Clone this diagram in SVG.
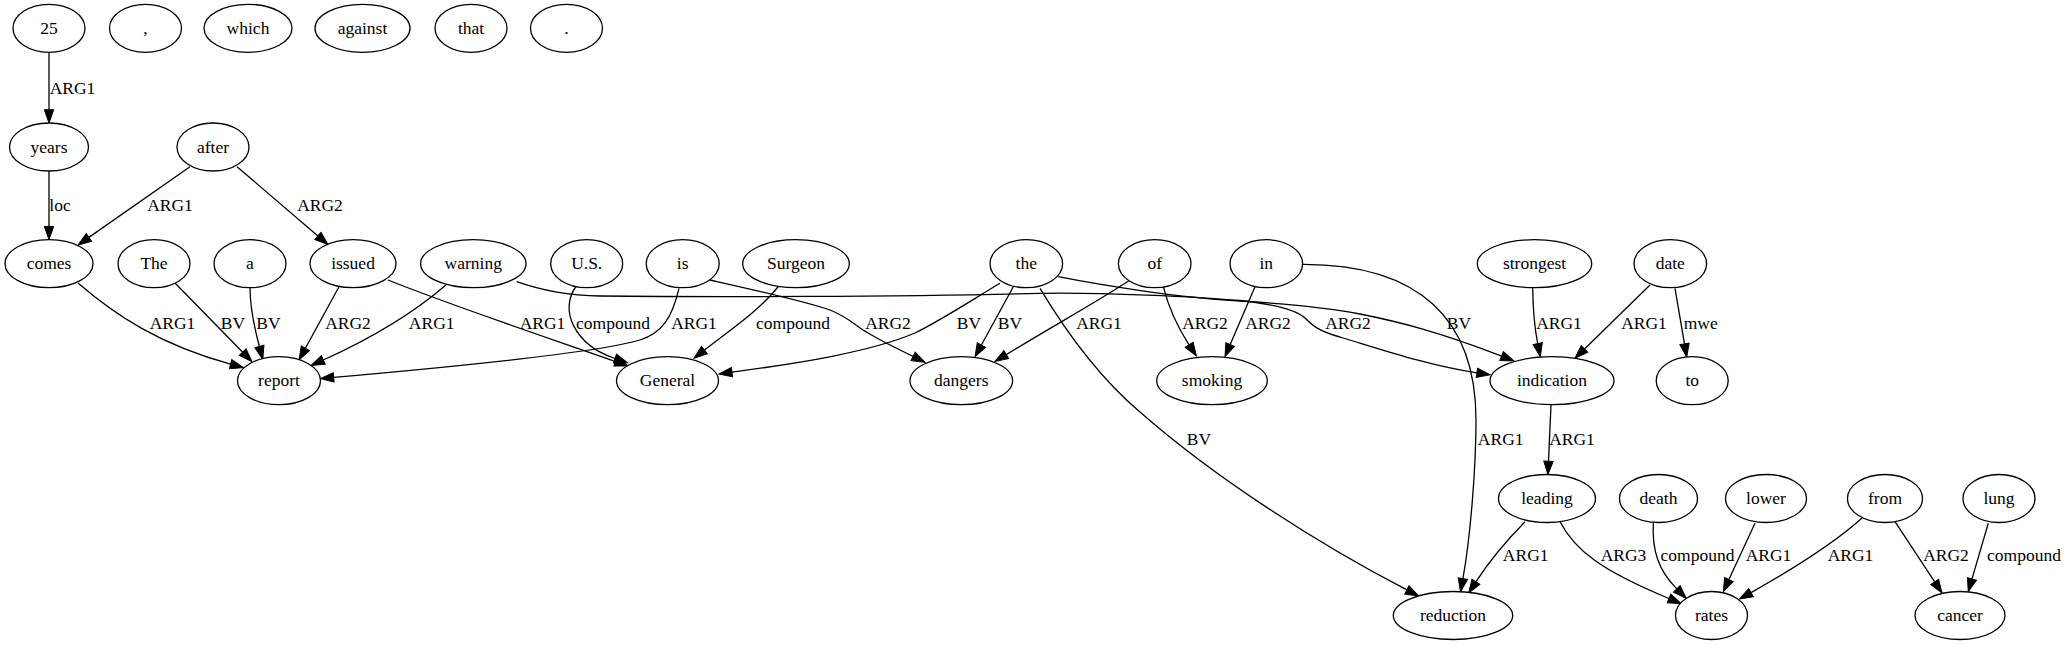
<svg xmlns="http://www.w3.org/2000/svg" width="2068" height="645" viewBox="0 0 2068 645">
<style>
.node ellipse{fill:#fff;stroke:#000;stroke-width:1.3}
text{font-family:"Liberation Serif","Times New Roman",serif;font-size:17.5px;fill:#000}
.node text{text-anchor:middle}
.edge path{fill:none;stroke:#000;stroke-width:1.3;marker-end:url(#arr)}
.edge text{text-anchor:middle}
</style>
<defs>
<marker id="arr" markerUnits="userSpaceOnUse" markerWidth="13.3" markerHeight="9.4" viewBox="0 0 13.3 9.4" refX="0" refY="4.7" orient="auto" style="overflow:visible">
<path d="M0,0 L13.3,4.7 L0,9.4 z" fill="#000" stroke="#000" stroke-width="1"/>
</marker>
</defs>
<rect width="2068" height="645" fill="#fff"/>
<g id="edges">
<g class="edge" id="e-25-years"><path d="M49,52.3 L49,109.7"/><text x="72.5" y="94">ARG1</text></g>
<g class="edge" id="e-years-comes"><path d="M49,171 L49,226.4"/><text x="60" y="210.5">loc</text></g>
<g class="edge" id="e-after-comes"><path d="M190,166.7 L88.9,237.4"/><text x="170" y="210.5">ARG1</text></g>
<g class="edge" id="e-after-issued"><path d="M237,166.7 L317.9,235.9"/><text x="320" y="210.5">ARG2</text></g>
<g class="edge" id="e-comes-report"><path d="M78,283 C115,315 160,345 230.6,364.1"/><text x="172.5" y="328.5">ARG1</text></g>
<g class="edge" id="e-The-report"><path d="M174,282 L242.7,352.2"/><text x="233" y="328.5">BV</text></g>
<g class="edge" id="e-a-report"><path d="M250,287.7 C250,310 255,330 259.4,346.5"/><text x="268.5" y="328.5">BV</text></g>
<g class="edge" id="e-issued-report"><path d="M339,286.7 L305.4,348.3"/><text x="348" y="328.5">ARG2</text></g>
<g class="edge" id="e-warning-report"><path d="M446,285 C425,303 390,330 323.3,360"/><text x="431.7" y="328.5">ARG1</text></g>
<g class="edge" id="e-issued-General"><path d="M388,280 C450,305 540,335 615.5,361.5"/><text x="542.5" y="328.5">ARG1</text></g>
<g class="edge" id="e-US-General"><path d="M576.7,285.5 C558,310 575,345 615,358.5"/><text x="613" y="328.5">compound</text></g>
<g class="edge" id="e-is-report"><path d="M679,288.3 C672,318 662,333 640,340 C600,352 440,368 333.7,377.4"/><text x="694" y="328.5">ARG1</text></g>
<g class="edge" id="e-Surgeon-General"><path d="M778.3,286.5 C760,310 730,330 704.4,350.1"/><text x="793" y="328.5">compound</text></g>
<g class="edge" id="e-is-dangers"><path d="M710,280 C750,289 800,300 830,310 C850,318 855,326 868,333 C885,343 900,350 913.1,356.4"/><text x="888" y="328.5">ARG2</text></g>
<g class="edge" id="e-warning-indication"><path d="M516.7,281.7 C540,290 565,295.5 600,296 C700,297 900,297 1040,293.3 C1100,292 1200,297 1240,300.5 C1272,304 1295,309 1305,318 C1312,325 1318,331 1340,337 C1380,349 1430,366 1476.9,372.8"/><text x="1348" y="328.5">ARG2</text></g>
<g class="edge" id="e-the-General"><path d="M1000,283.3 C975,298 945,318 915,333 C870,352 800,363 732,372.2"/><text x="969" y="328.5">BV</text></g>
<g class="edge" id="e-the-dangers"><path d="M1013.3,286.7 L981.4,345"/><text x="1010" y="328.5">BV</text></g>
<g class="edge" id="e-of-dangers"><path d="M1130,280 C1100,300 1060,322 1006.3,354.6"/><text x="1099" y="328.5">ARG1</text></g>
<g class="edge" id="e-of-smoking"><path d="M1163.3,286.7 C1168,305 1176,325 1189.1,344.8"/><text x="1205" y="328.5">ARG2</text></g>
<g class="edge" id="e-in-smoking"><path d="M1255,286.7 L1230.2,344.5"/><text x="1268" y="328.5">ARG2</text></g>
<g class="edge" id="e-the-indication"><path d="M1058.3,276.7 C1100,285 1180,298 1240,301 C1290,304 1330,308 1360,314 C1400,322 1440,332 1501.6,356.1"/><text x="1459" y="328.5">BV</text></g>
<g class="edge" id="e-in-reduction"><path d="M1302.7,264.3 C1420,264 1476,320 1476,420 C1476,470 1470,540 1462.9,578.6"/><text x="1500.7" y="445">ARG1</text></g>
<g class="edge" id="e-the-reduction"><path d="M1040,288.3 C1068,335 1100,378 1140,412 C1215,478 1320,545 1406.9,589.9"/><text x="1199" y="445">BV</text></g>
<g class="edge" id="e-strongest-indication"><path d="M1532.7,288 C1533,310 1534,325 1537.7,343.6"/><text x="1559" y="328.5">ARG1</text></g>
<g class="edge" id="e-date-indication"><path d="M1650,285 L1584.5,349"/><text x="1644" y="328.5">ARG1</text></g>
<g class="edge" id="e-date-to"><path d="M1675,288.3 L1684.5,343.9"/><text x="1700.7" y="328.5">mwe</text></g>
<g class="edge" id="e-indication-leading"><path d="M1551,404.7 L1548.5,461.2"/><text x="1572" y="445">ARG1</text></g>
<g class="edge" id="e-leading-reduction"><path d="M1525,521.7 C1512,535 1490,560 1475.9,581.8"/><text x="1525.7" y="561">ARG1</text></g>
<g class="edge" id="e-leading-rates"><path d="M1560,521.7 C1575,550 1600,570 1669,598.5"/><text x="1623.5" y="561">ARG3</text></g>
<g class="edge" id="e-death-rates"><path d="M1653.3,523.3 C1652,550 1658,570 1676.8,588.9"/><text x="1697.5" y="561">compound</text></g>
<g class="edge" id="e-lower-rates"><path d="M1755,523.3 L1728.9,579.6"/><text x="1768.5" y="561">ARG1</text></g>
<g class="edge" id="e-from-rates"><path d="M1862,518 C1840,538 1800,565 1751,592.6"/><text x="1850.5" y="561">ARG1</text></g>
<g class="edge" id="e-from-cancer"><path d="M1895,521.7 L1934.7,581.9"/><text x="1946" y="561">ARG2</text></g>
<g class="edge" id="e-lung-cancer"><path d="M1988.3,523.3 L1972,578.9"/><text x="2024" y="561">compound</text></g>
</g>
<g id="n25" class="node"><ellipse cx="49" cy="28.3" rx="36" ry="24"/><text x="49" y="33.8">25</text></g>
<g id="ncomma" class="node"><ellipse cx="145.5" cy="28.3" rx="36" ry="24"/><text x="145.5" y="33.8">,</text></g>
<g id="nwhich" class="node"><ellipse cx="248" cy="28.3" rx="44" ry="24"/><text x="248" y="33.8">which</text></g>
<g id="nagainst" class="node"><ellipse cx="362.5" cy="28.3" rx="47.5" ry="24"/><text x="362.5" y="33.8">against</text></g>
<g id="nthat" class="node"><ellipse cx="471" cy="28.3" rx="36" ry="24"/><text x="471" y="33.8">that</text></g>
<g id="nperiod" class="node"><ellipse cx="566.5" cy="28.3" rx="36" ry="24"/><text x="566.5" y="33.8">.</text></g>
<g id="nyears" class="node"><ellipse cx="49" cy="147" rx="39.5" ry="24"/><text x="49" y="152.5">years</text></g>
<g id="nafter" class="node"><ellipse cx="213" cy="147" rx="36" ry="24"/><text x="213" y="152.5">after</text></g>
<g id="ncomes" class="node"><ellipse cx="49" cy="263.7" rx="44" ry="24"/><text x="49" y="269.2">comes</text></g>
<g id="nThe" class="node"><ellipse cx="154" cy="263.7" rx="36" ry="24"/><text x="154" y="269.2">The</text></g>
<g id="na" class="node"><ellipse cx="250" cy="263.7" rx="36" ry="24"/><text x="250" y="269.2">a</text></g>
<g id="nissued" class="node"><ellipse cx="353" cy="263.7" rx="43" ry="24"/><text x="353" y="269.2">issued</text></g>
<g id="nwarning" class="node"><ellipse cx="473.3" cy="263.7" rx="52.7" ry="24"/><text x="473.3" y="269.2">warning</text></g>
<g id="nUS" class="node"><ellipse cx="586.7" cy="263.7" rx="36" ry="24"/><text x="586.7" y="269.2">U.S.</text></g>
<g id="nis" class="node"><ellipse cx="682.7" cy="263.7" rx="36.5" ry="24"/><text x="682.7" y="269.2">is</text></g>
<g id="nSurgeon" class="node"><ellipse cx="796" cy="263.7" rx="53.3" ry="24"/><text x="796" y="269.2">Surgeon</text></g>
<g id="nthe" class="node"><ellipse cx="1026.3" cy="263.7" rx="36.3" ry="24"/><text x="1026.3" y="269.2">the</text></g>
<g id="nof" class="node"><ellipse cx="1154.7" cy="263.7" rx="36.3" ry="24"/><text x="1154.7" y="269.2">of</text></g>
<g id="nin" class="node"><ellipse cx="1266.3" cy="263.7" rx="36.3" ry="24"/><text x="1266.3" y="269.2">in</text></g>
<g id="nstrongest" class="node"><ellipse cx="1534.5" cy="263.7" rx="57.2" ry="24"/><text x="1534.5" y="269.2">strongest</text></g>
<g id="ndate" class="node"><ellipse cx="1670.3" cy="263.7" rx="36.3" ry="24"/><text x="1670.3" y="269.2">date</text></g>
<g id="nreport" class="node"><ellipse cx="279" cy="380.7" rx="41.5" ry="24"/><text x="279" y="386.2">report</text></g>
<g id="nGeneral" class="node"><ellipse cx="667.5" cy="380.7" rx="51" ry="24"/><text x="667.5" y="386.2">General</text></g>
<g id="ndangers" class="node"><ellipse cx="961.3" cy="380.7" rx="51.3" ry="24"/><text x="961.3" y="386.2">dangers</text></g>
<g id="nsmoking" class="node"><ellipse cx="1212" cy="380.7" rx="55.3" ry="24"/><text x="1212" y="386.2">smoking</text></g>
<g id="nindication" class="node"><ellipse cx="1552" cy="380.7" rx="62" ry="24"/><text x="1552" y="386.2">indication</text></g>
<g id="nto" class="node"><ellipse cx="1692.2" cy="380.7" rx="36" ry="24"/><text x="1692.2" y="386.2">to</text></g>
<g id="nleading" class="node"><ellipse cx="1547" cy="498.5" rx="48.5" ry="24"/><text x="1547" y="504">leading</text></g>
<g id="ndeath" class="node"><ellipse cx="1658.5" cy="498.5" rx="39" ry="24"/><text x="1658.5" y="504">death</text></g>
<g id="nlower" class="node"><ellipse cx="1766" cy="498.5" rx="40.5" ry="24"/><text x="1766" y="504">lower</text></g>
<g id="nfrom" class="node"><ellipse cx="1885" cy="498.5" rx="37.5" ry="24"/><text x="1885" y="504">from</text></g>
<g id="nlung" class="node"><ellipse cx="1999" cy="498.5" rx="36" ry="24"/><text x="1999" y="504">lung</text></g>
<g id="nreduction" class="node"><ellipse cx="1453" cy="615.5" rx="59.7" ry="24"/><text x="1453" y="621">reduction</text></g>
<g id="nrates" class="node"><ellipse cx="1711.5" cy="615.5" rx="36" ry="24"/><text x="1711.5" y="621">rates</text></g>
<g id="ncancer" class="node"><ellipse cx="1960" cy="615.5" rx="45" ry="24"/><text x="1960" y="621">cancer</text></g>
</svg>
